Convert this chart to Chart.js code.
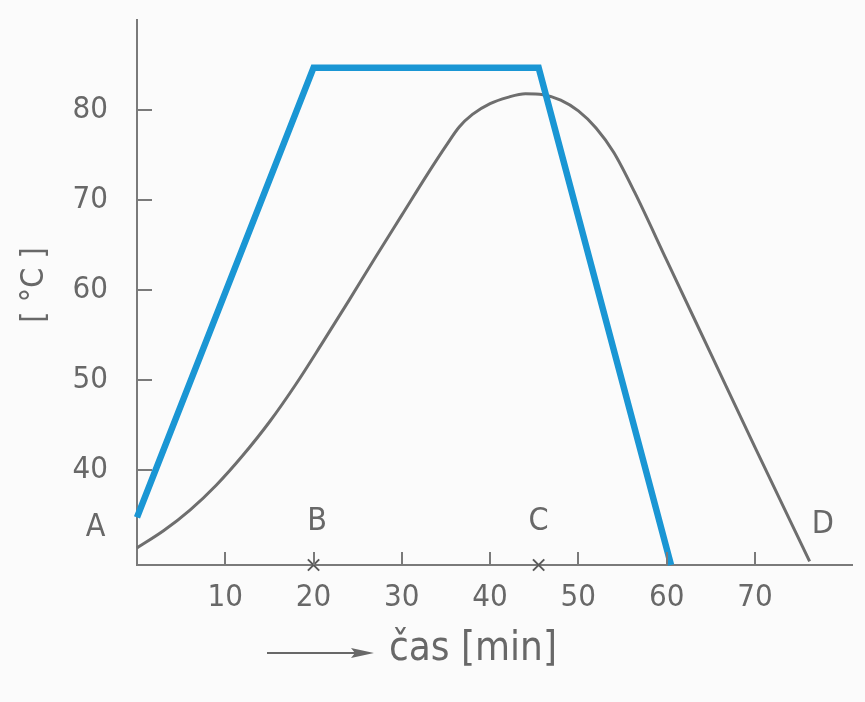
<!DOCTYPE html>
<html>
<head>
<meta charset="utf-8">
<script src="https://cdn.jsdelivr.net/npm/chart.js@4/dist/chart.umd.min.js"></script>
<style>
  html, body { margin: 0; padding: 0; background: #fbfbfb; }
  #wrap { width: 865px; height: 702px; }
</style>
</head>
<body>
<div id="wrap"><canvas id="c" width="865" height="702"></canvas></div>
<script>
// ---- data ----
const xTickValues = [10, 20, 30, 40, 50, 60, 70];
const yTickValues = [40, 50, 60, 70, 80];

const heatingX = [0, 20, 45.5, 60.5];          // blue set-point profile [min]
const heatingY = [34.7, 84.7, 84.7, 29.4];     // [°C]

const productX = [0, 3, 6, 9, 12, 15, 18, 21, 24, 27, 30, 33, 35, 36.5, 38, 40, 42, 44, 46, 48, 50, 52, 54, 56.4, 60, 65, 70, 76.2];
const productY = [31.3, 33.2, 35.5, 38.3, 41.6, 45.3, 49.5, 54.1, 58.8, 63.6, 68.3, 73.0, 76.0, 78.1, 79.5, 80.7, 81.4, 81.8, 81.7, 81.1, 79.9, 78.0, 75.3, 70.8, 63.3, 52.9, 42.5, 29.8];

const markX = [20, 45.5];                      // crosses on the time axis
const pointLabels = ['A', 'B', 'C', 'D'];
const pointLabelX = [-4.7, 20.4, 45.5, 77.7];
const pointLabelY = [33.5, 34.2, 34.2, 33.9];

const xTitle = 'čas [min]';
const yTitle = '[ °C ]';

const X_MIN = 0, X_MAX = 81, Y_MIN = 29.4, Y_MAX = 90;

// ---- styles ----
const INK = '#686868';
const AXIS = '#7a7a7a';
const FONT = '"DejaVu Sans Condensed", "Liberation Sans Narrow", "DejaVu Sans", sans-serif';

const decor = {
  id: 'decor',
  beforeDraw(chart) {
    const ctx = chart.ctx;
    ctx.save();
    ctx.fillStyle = '#fbfbfb';
    ctx.fillRect(0, 0, chart.width, chart.height);
    ctx.restore();
  },
  afterDraw(chart) {
    const ctx = chart.ctx;
    const xs = chart.scales.x, ys = chart.scales.y;
    const area = chart.chartArea;
    ctx.save();
    // inward tick marks
    ctx.strokeStyle = AXIS;
    ctx.lineWidth = 2;
    ctx.beginPath();
    yTickValues.forEach(v => {
      const py = Math.round(ys.getPixelForValue(v));
      ctx.moveTo(area.left, py);
      ctx.lineTo(area.left + 15, py);
    });
    xTickValues.forEach(v => {
      const px = Math.round(xs.getPixelForValue(v));
      ctx.moveTo(px, area.bottom);
      ctx.lineTo(px, area.bottom - 13);
    });
    ctx.stroke();

    // point letters
    ctx.fillStyle = INK;
    ctx.font = '32px ' + FONT;
    ctx.textAlign = 'center';
    ctx.textBaseline = 'middle';
    pointLabels.forEach((t, i) => {
      ctx.fillText(t, xs.getPixelForValue(pointLabelX[i]), ys.getPixelForValue(pointLabelY[i]));
    });

    // y title (rotated)
    ctx.save();
    ctx.translate(35, 285);
    ctx.rotate(-Math.PI / 2);
    ctx.font = '32px ' + FONT;
    ctx.textAlign = 'center';
    ctx.textBaseline = 'middle';
    ctx.fillText(yTitle, 0, 0);
    ctx.restore();

    // x title with arrow
    const ay = 653;
    ctx.strokeStyle = INK;
    ctx.lineWidth = 2;
    ctx.beginPath();
    ctx.moveTo(267, ay);
    ctx.lineTo(360, ay);
    ctx.stroke();
    ctx.beginPath();
    ctx.moveTo(374, ay);
    ctx.lineTo(351, ay - 5);
    ctx.lineTo(355, ay);
    ctx.lineTo(351, ay + 5);
    ctx.closePath();
    ctx.fill();
    ctx.font = '40px ' + FONT;
    ctx.textAlign = 'left';
    ctx.textBaseline = 'middle';
    ctx.fillText(xTitle, 389, 650);
    ctx.restore();
  }
};

new Chart(document.getElementById('c'), {
  type: 'scatter',
  data: {
    datasets: [
      {
        label: 'heating',
        type: 'line',
        data: heatingX.map((x, i) => ({ x, y: heatingY[i] })),
        borderColor: '#1a96d4',
        borderWidth: 6.5,
        pointRadius: 0,
        tension: 0,
        borderJoinStyle: 'miter',
        fill: false,
        clip: false,
        order: 0
      },
      {
        label: 'product',
        type: 'line',
        data: productX.map((x, i) => ({ x, y: productY[i] })),
        borderColor: '#6e6e6e',
        borderWidth: 3,
        pointRadius: 0,
        cubicInterpolationMode: 'monotone',
        fill: false,
        clip: false,
        order: 1
      },
      {
        label: 'marks',
        data: markX.map(x => ({ x, y: Y_MIN })),
        pointStyle: 'crossRot',
        pointRadius: 8,
        borderColor: '#5a5a5a',
        borderWidth: 2,
        clip: false,
        order: 2
      }
    ]
  },
  options: {
    responsive: false,
    animation: false,
    events: [],
    layout: { padding: { left: 0, top: 20, right: 13, bottom: 0 } },
    plugins: { legend: { display: false }, tooltip: { enabled: false } },
    scales: {
      x: {
        type: 'linear',
        min: X_MIN, max: X_MAX,
        afterBuildTicks: s => { s.ticks = xTickValues.map(v => ({ value: v })); },
        afterFit: s => { s.height = 137; s.paddingLeft = 0; s.paddingRight = 0; },
        grid: { drawOnChartArea: false, drawTicks: false },
        border: { display: true, color: AXIS, width: 2 },
        ticks: { color: INK, padding: 14, font: { family: FONT, size: 31 }, maxRotation: 0, autoSkip: false }
      },
      y: {
        type: 'linear',
        min: Y_MIN, max: Y_MAX,
        afterBuildTicks: s => { s.ticks = yTickValues.map(v => ({ value: v })); },
        afterFit: s => { s.width = 137; s.paddingTop = 0; s.paddingBottom = 0; },
        grid: { drawOnChartArea: false, drawTicks: false },
        border: { display: true, color: AXIS, width: 2 },
        ticks: { color: INK, padding: 29, font: { family: FONT, size: 31 }, autoSkip: false }
      }
    }
  },
  plugins: [decor]
});
</script>
</body>
</html>
